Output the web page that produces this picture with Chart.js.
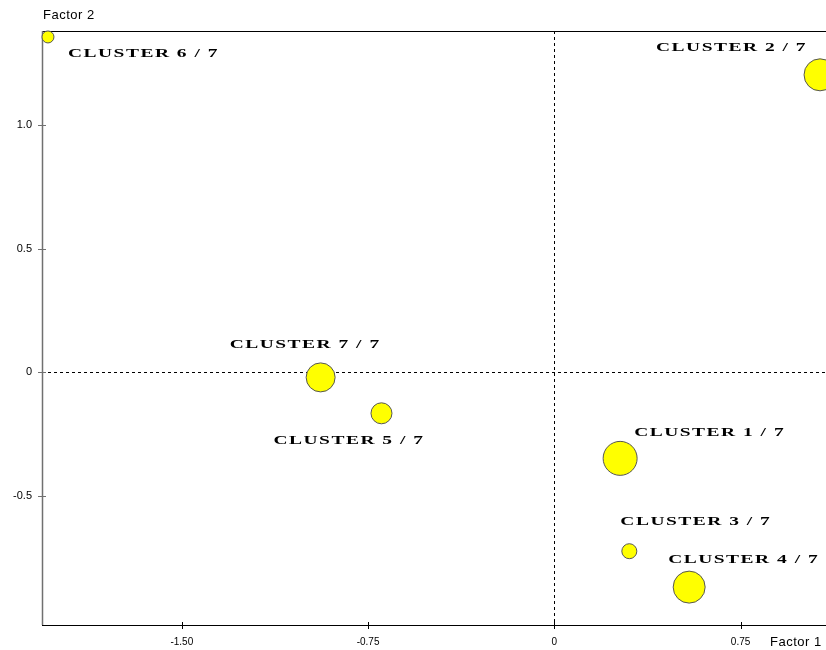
<!DOCTYPE html>
<html lang="en">
<head>
    <meta charset="UTF-8">
    <title>Clusters - Factor 1 / Factor 2</title>
    <script src="https://cdn.jsdelivr.net/npm/chart.js"></script>
    <style>
        body {
            margin: 0;
            background-color: #ffffff;
        }
        #wrap {
            width: 826px;
            height: 650px;
        }
    </style>
</head>
<body>
    <div id="wrap"><canvas id="myChart" width="826" height="650"></canvas></div>

    <script>
        // Cluster names and their coordinates on factor 1 / factor 2
        const clusterNames = ['CLUSTER 1 / 7', 'CLUSTER 2 / 7', 'CLUSTER 3 / 7', 'CLUSTER 4 / 7',
                              'CLUSTER 5 / 7', 'CLUSTER 6 / 7', 'CLUSTER 7 / 7'];
        const factor1 = [0.265, 1.070, 0.302, 0.543, -0.696, -2.039, -0.941];
        const factor2 = [-0.347, 1.202, -0.722, -0.867, -0.165, 1.355, -0.020];
        const clusterSizes = [17, 16, 7.5, 16, 10.5, 6, 14.5];

        const xTickValues = [-1.5, -0.75, 0, 0.75];
        const xTickLabels = ['-1.50', '-0.75', '0', '0.75'];
        const yTickValues = [-0.5, 0, 0.5, 1.0];
        const yTickLabels = ['-0.5', '0', '0.5', '1.0'];

        // where each name sits relative to its bubble (left edge, vertical centre)
        const labelOffsets = [[14, -26], [-164, -27], [-9, -30], [-21, -27],
                              [-108, 27], [20, 17], [-91, -33]];

        const points = factor1.map((x, i) => ({ x: x, y: factor2[i], r: clusterSizes[i] }));

        // draws axes, zero lines, tick marks, cluster names and axis titles
        const mapDecor = {
            id: 'mapDecor',
            beforeDatasetsDraw(chart) {
                const ctx = chart.ctx;
                const a = chart.chartArea;
                const xs = chart.scales.x;
                const ys = chart.scales.y;
                const x0 = Math.round(xs.getPixelForValue(0)) + 0.5;
                const y0 = Math.round(ys.getPixelForValue(0)) + 0.5;

                ctx.save();
                ctx.strokeStyle = '#000000';
                ctx.lineWidth = 1;
                ctx.setLineDash([3, 3]);
                ctx.beginPath();
                ctx.moveTo(x0, a.top);
                ctx.lineTo(x0, a.bottom);
                ctx.moveTo(a.left, y0);
                ctx.lineTo(a.right, y0);
                ctx.stroke();
                ctx.setLineDash([]);

                // top border and bottom axis
                ctx.beginPath();
                ctx.moveTo(a.left, a.top + 0.5);
                ctx.lineTo(a.right, a.top + 0.5);
                ctx.moveTo(a.left, a.bottom + 0.5);
                ctx.lineTo(a.right, a.bottom + 0.5);
                ctx.stroke();

                xs.ticks.forEach((t, i) => {
                    const px = Math.round(xs.getPixelForTick(i)) + 0.5;
                    ctx.beginPath();
                    ctx.moveTo(px, a.bottom - 3);
                    ctx.lineTo(px, a.bottom + 4);
                    ctx.stroke();
                });

                // left axis in grey
                ctx.strokeStyle = '#707070';
                ctx.lineWidth = 1.5;
                ctx.beginPath();
                ctx.moveTo(a.left + 0.5, a.top);
                ctx.lineTo(a.left + 0.5, a.bottom);
                ctx.stroke();
                ctx.lineWidth = 1;
                ys.ticks.forEach((t, i) => {
                    const py = Math.round(ys.getPixelForTick(i)) + 0.5;
                    ctx.beginPath();
                    ctx.moveTo(a.left - 4, py);
                    ctx.lineTo(a.left + 4, py);
                    ctx.stroke();
                });
                ctx.restore();
            },
            afterDatasetsDraw(chart) {
                const ctx = chart.ctx;
                const meta = chart.getDatasetMeta(0);
                ctx.save();
                ctx.fillStyle = '#000000';
                ctx.font = 'bold 13px "Liberation Serif", serif';
                ctx.textBaseline = 'middle';
                ctx.textAlign = 'left';
                ctx.letterSpacing = '1px';
                meta.data.forEach((el, i) => {
                    const name = clusterNames[i];
                    const w = ctx.measureText(name).width;
                    ctx.save();
                    ctx.translate(el.x + labelOffsets[i][0], el.y + labelOffsets[i][1]);
                    ctx.scale(151 / w, 1);
                    ctx.fillText(name, 0, 0);
                    ctx.restore();
                });

                ctx.letterSpacing = '0.5px';
                ctx.font = '13px "Liberation Sans", Arial, sans-serif';
                ctx.fillStyle = '#000000';
                ctx.textAlign = 'left';
                ctx.fillText('Factor 2', 43, 15);
                ctx.fillText('Factor 1', 770, 642);
                ctx.restore();
            }
        };

        const ctx = document.getElementById('myChart').getContext('2d');
        new Chart(ctx, {
            type: 'bubble',
            data: {
                datasets: [{
                    label: 'Clusters',
                    data: points,
                    backgroundColor: '#ffff00',
                    borderColor: '#555555',
                    borderWidth: 1,
                    clip: false
                }]
            },
            options: {
                responsive: false,
                animation: false,
                layout: {
                    autoPadding: false,
                    padding: { top: 31, right: 0, left: 0, bottom: 0 }
                },
                scales: {
                    x: {
                        type: 'linear',
                        min: -2.063,
                        max: 1.094,
                        grid: { display: false, drawTicks: false },
                        border: { display: false },
                        afterBuildTicks: s => { s.ticks = xTickValues.map(v => ({ value: v })); },
                        afterFit: s => { s.height = 25; s.paddingLeft = 0; s.paddingRight = 0; },
                        ticks: {
                            padding: 11,
                            color: '#000000',
                            font: { family: '"Liberation Sans Narrow", "Liberation Sans", Arial', size: 10 },
                            callback: (v, i) => xTickLabels[i]
                        }
                    },
                    y: {
                        type: 'linear',
                        min: -1.020,
                        max: 1.379,
                        grid: { display: false, drawTicks: false },
                        border: { display: false },
                        afterBuildTicks: s => { s.ticks = yTickValues.map(v => ({ value: v })); },
                        afterFit: s => { s.width = 42; s.paddingTop = 0; s.paddingBottom = 0; },
                        ticks: {
                            padding: 10,
                            color: '#000000',
                            font: { family: '"Liberation Sans", Arial', size: 11 },
                            callback: (v, i) => yTickLabels[i]
                        }
                    }
                },
                plugins: {
                    legend: { display: false },
                    tooltip: { enabled: false }
                }
            },
            plugins: [mapDecor]
        });
    </script>
</body>
</html>
